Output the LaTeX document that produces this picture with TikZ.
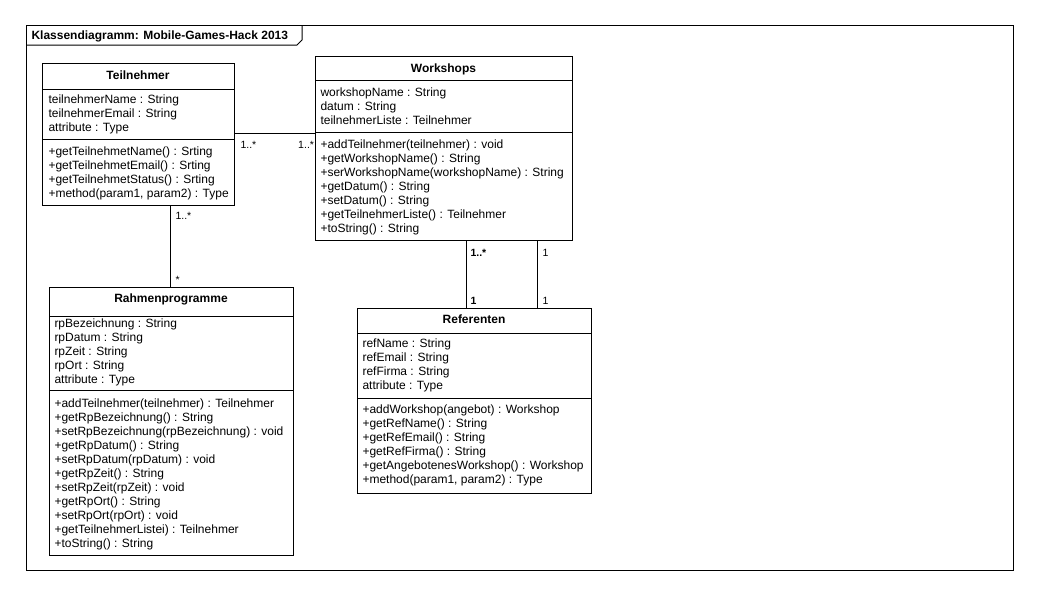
\documentclass[tikz,border=0pt]{standalone}
\usepackage{fontspec}
\setmainfont{Liberation Sans}
\begin{document}
\begin{tikzpicture}[x=1pt,y=-1pt,line width=1pt,
  box/.style={draw,anchor=north west,inner sep=0pt,fill=white},
  txt/.style={anchor=north west,inner sep=0pt,align=left,font=\fontsize{12}{14}\selectfont},
  ttl/.style={inner sep=0pt,anchor=base,font=\fontsize{12}{14}\selectfont\bfseries},
  mult/.style={inner sep=0pt,font=\fontsize{10.5}{12}\selectfont}]
\useasboundingbox (0,0) rectangle (1043,600);
\fill[white] (0,0) rectangle (1043,600);
% frame
\draw (26,25) rectangle (1013,570);
\draw (26,45) -- (297,45) -- (302,40) -- (302,25);
\node[ttl,anchor=base west] (frametitle) at (31,39) {Klassendiagramm: Mobile-Games-Hack 2013};

% Teilnehmer
\node[box,minimum width=192pt,minimum height=142pt] (T) at (42,63) {};
\draw (T.west |- 0,89) -- (T.east |- 0,89);
\draw (T.west |- 0,139) -- (T.east |- 0,139);
\node[ttl] (Tt) at (138,79) {Teilnehmer};
\node[txt] (Ta) at (48,94.3) {teilnehmerName : String\\teilnehmerEmail : String\\attribute : Type};
\node[txt] (Tm) at (48,146.3) {+getTeilnehmetName() : Srting\\+getTeilnehmetEmail() : Srting\\+getTeilnehmetStatus() : Srting\\+method(param1, param2) : Type};

% Workshops
\node[box,minimum width=257pt,minimum height=184pt] (W) at (315,56) {};
\draw (W.west |- 0,80) -- (W.east |- 0,80);
\draw (W.west |- 0,132) -- (W.east |- 0,132);
\node[ttl] (Wt) at (443.5,72) {Workshops};
\node[txt] (Wa) at (320,87) {workshopName : String\\datum : String\\teilnehmerListe : Teilnehmer};
\node[txt] (Wm) at (320,139.3) {+addTeilnehmer(teilnehmer) : void\\+getWorkshopName() : String\\+serWorkshopName(workshopName) : String\\+getDatum() : String\\+setDatum() : String\\+getTeilnehmerListe() : Teilnehmer\\+toString() : String};

% Rahmenprogramme
\node[box,minimum width=244pt,minimum height=268pt] (R) at (49,287) {};
\draw (R.west |- 0,316) -- (R.east |- 0,316);
\draw (R.west |- 0,390) -- (R.east |- 0,390);
\node[ttl] (Rt) at (171,302) {Rahmenprogramme};
\node[txt] (Ra) at (54,318.3) {rpBezeichnung : String\\rpDatum : String\\rpZeit : String\\rpOrt : String\\attribute : Type};
\node[txt] (Rm) at (54,398.3) {+addTeilnehmer(teilnehmer) : Teilnehmer\\+getRpBezeichnung() : String\\+setRpBezeichnung(rpBezeichnung) : void\\+getRpDatum() : String\\+setRpDatum(rpDatum) : void\\+getRpZeit() : String\\+setRpZeit(rpZeit) : void\\+getRpOrt() : String\\+setRpOrt(rpOrt) : void\\+getTeilnehmerListei) : Teilnehmer\\+toString() : String};

% Referenten
\node[box,minimum width=234pt,minimum height=185pt] (F) at (357,308) {};
\draw (F.west |- 0,333) -- (F.east |- 0,333);
\draw (F.west |- 0,398) -- (F.east |- 0,398);
\node[ttl] (Ft) at (474,323.5) {Referenten};
\node[txt] (Fa) at (362,338.3) {refName : String\\refEmail : String\\refFirma : String\\attribute : Type};
\node[txt] (Fm) at (362,404.3) {+addWorkshop(angebot) : Workshop\\+getRefName() : String\\+getRefEmail() : String\\+getRefFirma() : String\\+getAngebotenesWorkshop() : Workshop\\+method(param1, param2) : Type};

% connectors
\draw (T.east |- 0,133) -- (W.west |- 0,133);
\node[mult,anchor=base west] (m1) at (240,148) {1..*};
\node[mult,anchor=base east] (m2) at (314.5,148) {1..*};

\draw (T.south -| 170,0) -- (R.north -| 170,0);
\node[mult,anchor=base west] (m3) at (175,219) {1..*};
\node[mult,anchor=base west] (m4) at (175,283) {*};

\draw (W.south -| 466,0) -- (F.north -| 466,0);
\draw (W.south -| 537,0) -- (F.north -| 537,0);
\node[mult,anchor=base west,font=\fontsize{10.5}{12}\selectfont\bfseries] (m5) at (470,256) {1..*};
\node[mult,anchor=base west] (m6) at (542,256) {1};
\node[mult,anchor=base west,font=\fontsize{10.5}{12}\selectfont\bfseries] (m7) at (470,304) {1};
\node[mult,anchor=base west] (m8) at (542,304) {1};
\end{tikzpicture}
\end{document}
